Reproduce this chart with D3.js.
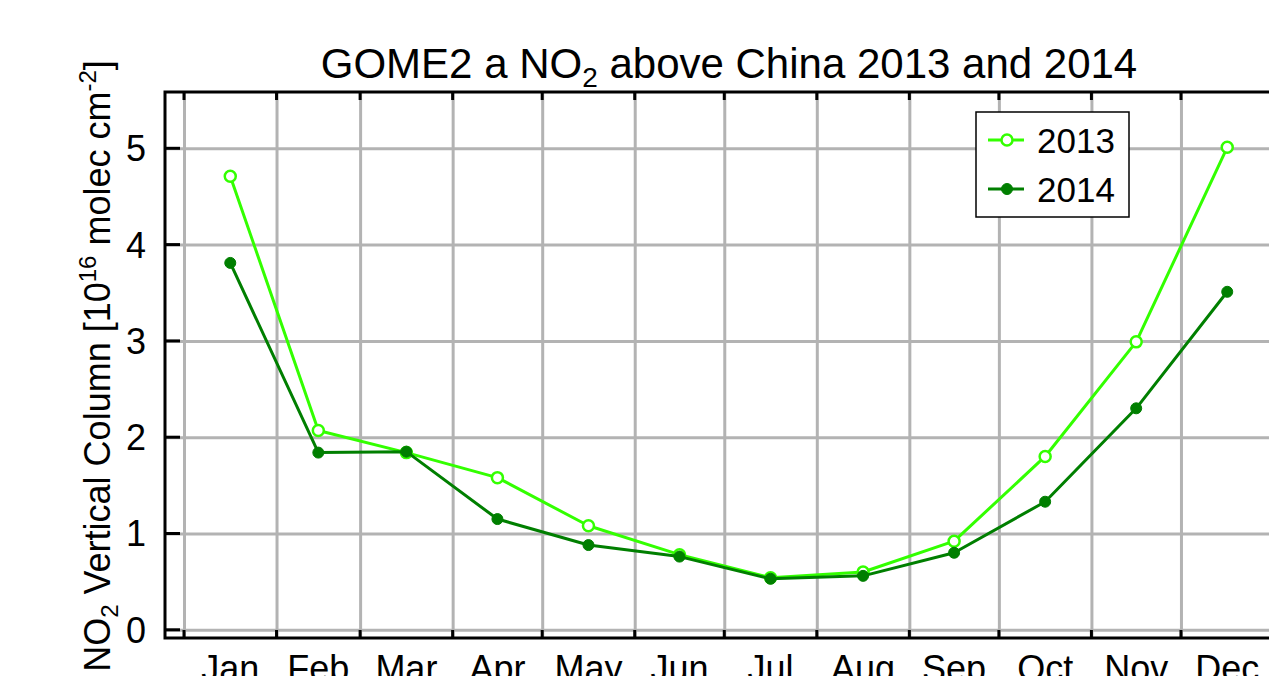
<!DOCTYPE html>
<html>
<head>
<meta charset="utf-8">
<script src="https://cdn.jsdelivr.net/npm/d3@7"></script>
<style>
  body { margin: 0; background: #fff; }
  svg { display: block; font-family: "Liberation Sans", Arial, sans-serif; }
  .grid line { stroke: #b3b3b3; stroke-width: 3; }
  .grid .domain { display: none; }
</style>
</head>
<body>
<svg id="chart"></svg>
<script>
const months = ["Jan", "Feb", "Mar", "Apr", "May", "Jun", "Jul", "Aug", "Sep", "Oct", "Nov", "Dec"];
const no2_2013 = [4.71, 2.07, 1.84, 1.58, 1.08, 0.78, 0.54, 0.60, 0.92, 1.80, 2.99, 5.01];
const no2_2014 = [3.81, 1.84, 1.85, 1.15, 0.88, 0.76, 0.53, 0.56, 0.80, 1.33, 2.30, 3.51];
const yticks = [0, 1, 2, 3, 4, 5];

const series = [
  {name: "2013", values: no2_2013, color: "#33ff00", open: true},
  {name: "2014", values: no2_2014, color: "#007f00", open: false},
];

const width = 1269, height = 676;
const box = {left: 165, right: 1292, top: 92, bottom: 638};

const svg = d3.select("#chart").attr("width", width).attr("height", height);

// time axis over one year, points at the middle of each month
const x = d3.scaleUtc()
  .domain([new Date(Date.UTC(2013, 0, 1)), new Date(Date.UTC(2014, 0, 1))])
  .range([184, 1273.5]);
const starts = d3.utcMonth.range(new Date(Date.UTC(2013, 0, 1)), new Date(Date.UTC(2014, 0, 2)));
const mid = i => new Date((Date.UTC(2013, i, 1) + Date.UTC(2013, i + 1, 1)) / 2);

const y = d3.scaleLinear().domain([0, 5]).range([629.8, 148.3]);

// grid
svg.append("g").classed("grid", true)
  .attr("transform", `translate(0,${box.bottom})`)
  .call(d3.axisBottom(x).tickValues(starts).tickFormat("")
    .tickSizeOuter(0).tickSizeInner(-(box.bottom - box.top)));

svg.append("g").classed("grid", true)
  .attr("transform", `translate(${box.left},0)`)
  .call(d3.axisLeft(y).tickValues(yticks).tickFormat("")
    .tickSizeOuter(0).tickSizeInner(-(box.right - box.left)));

// frame
svg.append("rect")
  .attr("x", box.left).attr("y", box.top)
  .attr("width", box.right - box.left).attr("height", box.bottom - box.top)
  .attr("fill", "none").attr("stroke", "#000").attr("stroke-width", 3);

// month ticks on top and bottom, value ticks on the left
const mt = svg.append("g").attr("stroke", "#000").attr("stroke-width", 3);
mt.selectAll("line.b").data(starts).join("line").classed("b", true)
  .attr("x1", d => x(d)).attr("x2", d => x(d))
  .attr("y1", box.bottom).attr("y2", box.bottom - 8);
mt.selectAll("line.t").data(starts).join("line").classed("t", true)
  .attr("x1", d => x(d)).attr("x2", d => x(d))
  .attr("y1", box.top).attr("y2", box.top + 8);
mt.selectAll("line.y").data(yticks).join("line").classed("y", true)
  .attr("x1", box.left).attr("x2", box.left + 15)
  .attr("y1", d => y(d)).attr("y2", d => y(d));

// y tick labels
svg.append("g").selectAll("text").data(yticks).join("text")
  .attr("x", 146).attr("y", d => y(d))
  .attr("dy", "0.36em")
  .attr("text-anchor", "end")
  .attr("font-size", 36)
  .text(d => d);

// month labels (cut by the bottom edge, as in the original)
svg.append("g").selectAll("text").data(months).join("text")
  .attr("x", (d, i) => x(mid(i))).attr("y", 681)
  .attr("text-anchor", "middle")
  .attr("font-size", 36)
  .text(d => d);

// lines and markers
const line = d3.line().x((v, i) => x(mid(i))).y(v => y(v));
for (const s of series) {
  svg.append("path")
    .attr("d", line(s.values))
    .attr("fill", "none").attr("stroke", s.color)
    .attr("stroke-width", 3).attr("stroke-linejoin", "round");
  svg.append("g").selectAll("circle").data(s.values).join("circle")
    .attr("cx", (v, i) => x(mid(i))).attr("cy", v => y(v))
    .attr("r", s.open ? 5.5 : 5.5)
    .attr("fill", s.open ? "#fff" : s.color)
    .attr("stroke", s.color).attr("stroke-width", s.open ? 2.5 : 1);
}

// title
const title = svg.append("text")
  .attr("x", 729).attr("y", 78)
  .attr("text-anchor", "middle")
  .attr("font-size", 42);
title.append("tspan").text("GOME2 a NO");
title.append("tspan").attr("font-size", 28).attr("dy", 9).text("2");
title.append("tspan").attr("dy", -9).text(" above China 2013 and 2014");

// y label
const yl = svg.append("text")
  .attr("transform", "translate(110,366) rotate(-90)")
  .attr("text-anchor", "middle")
  .attr("font-size", 36);
yl.append("tspan").text("NO");
yl.append("tspan").attr("font-size", 24).attr("dy", 8).text("2");
yl.append("tspan").attr("dy", -8).text(" Vertical Column [10");
yl.append("tspan").attr("font-size", 24).attr("dy", -14).text("16");
yl.append("tspan").attr("dy", 14).text(" molec cm");
yl.append("tspan").attr("font-size", 24).attr("dy", -14).text("-2");
yl.append("tspan").attr("dy", 14).text("]");

// legend
const lg = svg.append("g").attr("transform", "translate(976,112)");
lg.append("rect").attr("width", 153).attr("height", 105)
  .attr("fill", "#fff").attr("stroke", "#000").attr("stroke-width", 1.5);
series.forEach((s, i) => {
  const g = lg.append("g").attr("transform", `translate(0,${28 + i * 49})`);
  g.append("line").attr("x1", 12).attr("x2", 48)
    .attr("stroke", s.color).attr("stroke-width", 3);
  g.append("circle").attr("cx", 31).attr("r", 5.5)
    .attr("fill", s.open ? "#fff" : s.color)
    .attr("stroke", s.color).attr("stroke-width", s.open ? 2.5 : 1);
  g.append("text").attr("x", 61).attr("dy", "0.36em")
    .attr("font-size", 35).text(s.name);
});
</script>
</body>
</html>
